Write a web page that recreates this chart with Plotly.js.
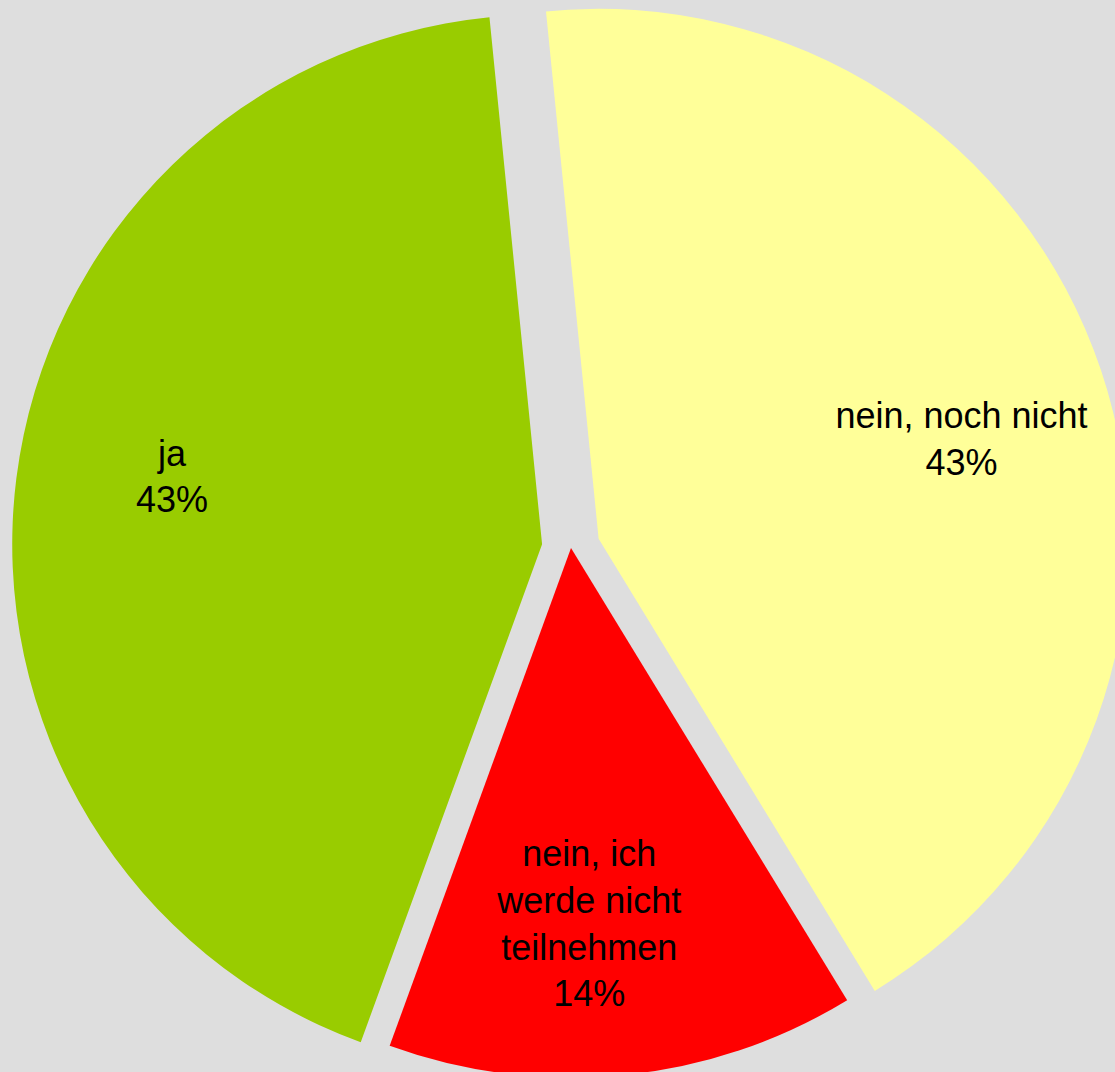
<!DOCTYPE html>
<html>
<head>
<meta charset="utf-8">
<script src="https://cdn.plot.ly/plotly-3.0.1.min.js"></script>
<style>
  html, body { margin: 0; padding: 0; background: #dedede; overflow: hidden; width: 1115px; height: 1072px; }
  #chart { position: absolute; left: 0px; top: -11px; width: 1142px; height: 1118px; }
</style>
</head>
<body>
<div id="chart"></div>
<script>
// Categories (answers) and their counts
const categories = ['nein, noch nicht', 'nein, ich werde nicht teilnehmen', 'ja'];
const displayLabels = ['nein, noch nicht', 'nein, ich<br>werde nicht<br>teilnehmen', 'ja'];
const counts = [3, 1, 3];
const sliceColors = ['#ffff99', '#ff0000', '#99cc00'];
const pulls = [0.055, 0, 0.055];

const labelFont = { family: 'Arial, "Liberation Sans", sans-serif', size: 36, color: '#000000' };

// The visible pie slices
const pieTrace = {
  type: 'pie',
  labels: categories,
  values: counts,
  sort: false,
  direction: 'clockwise',
  rotation: -5.7,
  pull: pulls,
  marker: { colors: sliceColors, line: { width: 0 } },
  textinfo: 'none',
  hoverinfo: 'label+percent',
  domain: { x: [0, 1], y: [0, 1] }
};

// Same data, transparent, only to place the slice labels further out
const labelTrace = {
  type: 'pie',
  labels: categories,
  values: counts,
  text: displayLabels,
  sort: false,
  direction: 'clockwise',
  rotation: -2.7,
  pull: pulls,
  hole: 0.42,
  marker: { colors: ['rgba(0,0,0,0)', 'rgba(0,0,0,0)', 'rgba(0,0,0,0)'], line: { width: 0 } },
  texttemplate: '%{text}<br>%{percent:.0%}',
  textposition: 'inside',
  insidetextorientation: 'horizontal',
  insidetextfont: labelFont,
  hoverinfo: 'skip',
  domain: { x: [0, 1], y: [0, 1] }
};

const layout = {
  width: 1142,
  height: 1118,
  margin: { l: 0, r: 0, t: 0, b: 0, pad: 0 },
  paper_bgcolor: '#dedede',
  plot_bgcolor: '#dedede',
  showlegend: false,
  font: { family: 'Arial, "Liberation Sans", sans-serif', color: '#000000' }
};

Plotly.newPlot('chart', [pieTrace, labelTrace], layout, { staticPlot: true, displayModeBar: false });
</script>
</body>
</html>
